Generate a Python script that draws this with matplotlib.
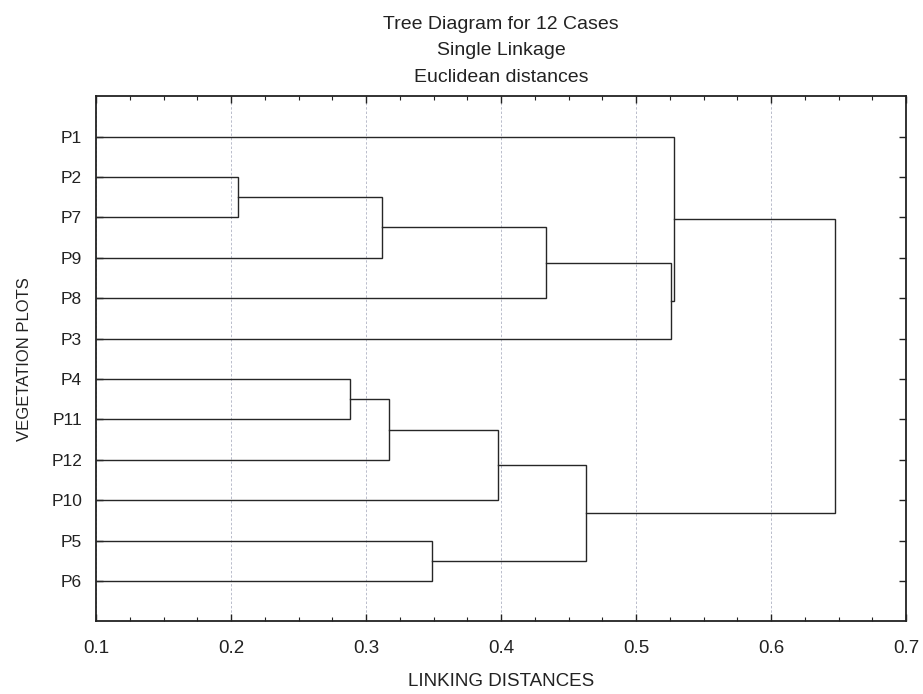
# tree diagram (single linkage, euclidean) redrawn with matplotlib
import matplotlib
matplotlib.use('Agg')
import matplotlib.pyplot as plt
from matplotlib.ticker import MultipleLocator

plt.rcParams['font.family'] = ['Liberation Sans', 'DejaVu Sans']

# leaf order, top to bottom
leaves = ['P1', 'P2', 'P7', 'P9', 'P8', 'P3', 'P4', 'P11', 'P12', 'P10', 'P5', 'P6']

# merges: (left child, right child, linkage distance); nK = K-th merge
merge_left = ['P2', 'P4', 'n0', 'n1', 'P5', 'n3', 'n2', 'n5', 'n6', 'P1', 'n9']
merge_right = ['P7', 'P11', 'P9', 'P12', 'P6', 'P10', 'P8', 'n4', 'P3', 'n8', 'n7']
merge_dist = [0.205, 0.288, 0.312, 0.317, 0.349, 0.398, 0.433, 0.463, 0.526, 0.528, 0.647]

x_min, x_max = 0.1, 0.7
line_col = '#262626'

fig = plt.figure(figsize=(9.23, 6.94), dpi=100)
ax = fig.add_axes([0.104, 0.1045, 0.8777, 0.757])

# node positions: leaves start at the left edge of the axis
pos = {}
for i, name in enumerate(leaves):
    pos[name] = (x_min, i + 1)

for k in range(len(merge_dist)):
    xa, ya = pos[merge_left[k]]
    xb, yb = pos[merge_right[k]]
    d = merge_dist[k]
    ax.plot([xa, d, d, xb], [ya, ya, yb, yb], color=line_col, lw=1.0,
            solid_joinstyle='miter', zorder=3)
    pos['n%d' % k] = (d, (ya + yb) / 2.0)

ax.set_xlim(x_min, x_max)
ax.set_ylim(len(leaves) + 1, 0)

ax.xaxis.set_major_locator(MultipleLocator(0.1))
ax.xaxis.set_minor_locator(MultipleLocator(0.025))
ax.set_yticks(range(1, len(leaves) + 1))
ax.set_yticklabels(leaves)

ax.tick_params(axis='both', which='both', direction='in', top=True, right=True,
               colors='#222222', labelcolor='#222222')
ax.tick_params(axis='x', which='major', length=5, width=1.0, pad=13, labelsize=13.5)
ax.tick_params(axis='x', which='minor', length=3, width=0.8)
ax.tick_params(axis='y', which='major', length=5, width=1.0, pad=10, labelsize=12.5)

for sp in ax.spines.values():
    sp.set_linewidth(1.3)
    sp.set_color('#222222')

ax.grid(axis='x', which='major', color='#b9bccb', linestyle=(0, (2.5, 2)), lw=0.7, zorder=0)

ax.set_xlabel('LINKING DISTANCES', fontsize=13.5, labelpad=12, color='#222222')
ax.set_ylabel('VEGETATION PLOTS', fontsize=12, labelpad=14, color='#222222')

ax.set_title('Tree Diagram for 12 Cases\nSingle Linkage\nEuclidean distances',
             fontsize=14, linespacing=1.75, pad=10, color='#222222')

fig.savefig('out.png', dpi=100)
